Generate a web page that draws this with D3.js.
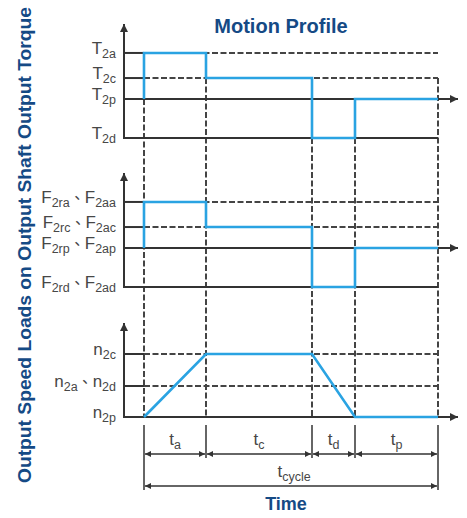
<!DOCTYPE html>
<html>
<head>
<meta charset="utf-8">
<script src="https://cdn.jsdelivr.net/npm/d3@7"></script>
<style>
  body { margin: 0; background: #fff; }
</style>
</head>
<body>
<div id="chart"></div>
<script>
// phase durations (arbitrary units)
const phaseNames = ["a", "c", "d", "p"];
const phaseDurations = [3.1, 5.3, 2.15, 4.15];

// torque levels, 0 = T2d, 100 = top of the axis
const torqueNames = [["2a"], ["2c"], ["2p"], ["2d"]];
const torqueLevels = [74.6, 52.6, 34.2, 0];
const torqueStart = 34.2;
const torqueByPhase = [74.6, 52.6, 0, 34.2];

// loads on output shaft
const forceNames = [["2ra", "2aa"], ["2rc", "2ac"], ["2rp", "2ap"], ["2rd", "2ad"]];
const forceLevels = [74.6, 52.6, 34.2, 0];
const forceStart = 34.2;
const forceByPhase = [74.6, 52.6, 0, 34.2];

// output speed
const speedNames = [["2c"], ["2a", "2d"], ["2p"]];
const speedLevels = [67, 33, 0];
const speedAtBounds = [0, 67, 67, 0, 0];

// where the dashed time guides start (torque units)
const guideTop = [34.2, 52.6, 0, 0, 52.6];

const width = 467, height = 518;
const axisX = 124, arrowX = 458;
const labelX = 116;
const blue = "#2aa3e2", ink = "#333", textGrey = "#474747", navy = "#154a85";
const font = "'Liberation Sans', Arial, sans-serif";

const bounds = [0].concat(Array.from(d3.cumsum(phaseDurations)));
const x = d3.scaleLinear().domain([0, d3.sum(phaseDurations)]).range([144, 438]);

const panels = [
  { top: 24, bottom: 138, sym: "T", names: torqueNames, levels: torqueLevels, axisLevel: 2, start: torqueStart, steps: torqueByPhase },
  { top: 173, bottom: 287, sym: "F", names: forceNames, levels: forceLevels, axisLevel: 2, start: forceStart, steps: forceByPhase },
  { top: 323, bottom: 417, sym: "n", names: speedNames, levels: speedLevels, axisLevel: 2, ramp: speedAtBounds }
];
panels.forEach((p) => (p.y = d3.scaleLinear().domain([0, 100]).range([p.bottom, p.top])));

const svg = d3.select("#chart").append("svg")
  .attr("width", width).attr("height", height)
  .style("font-family", font);

// arrow heads
const defs = svg.append("defs");
function marker(id, len, wid) {
  defs.append("marker")
    .attr("id", id)
    .attr("viewBox", "0 0 10 10")
    .attr("refX", 10).attr("refY", 5)
    .attr("markerUnits", "userSpaceOnUse")
    .attr("markerWidth", len).attr("markerHeight", wid)
    .attr("orient", "auto-start-reverse")
    .append("path")
    .attr("d", "M0,0L10,5L0,10z")
    .attr("fill", ink);
}
marker("axArrow", 11, 8);
marker("dimArrow", 10, 6);

// dashed time guides (behind everything)
const tPanel = panels[0], sPanel = panels[2];
svg.append("g").selectAll("line")
  .data(bounds)
  .join("line")
  .attr("x1", (d) => x(d)).attr("x2", (d) => x(d))
  .attr("y1", (d, i) => tPanel.y(guideTop[i]))
  .attr("y2", sPanel.y(0))
  .attr("stroke", "#444").attr("stroke-width", 2)
  .attr("stroke-dasharray", "6,2.5");

// label with subscripts: symbol, sub, [、 symbol, sub]
function label(g, xx, yy, sym, subs) {
  const t = g.append("text")
    .attr("x", xx).attr("y", yy)
    .attr("text-anchor", "end")
    .attr("fill", textGrey)
    .style("font-size", "17px");
  subs.forEach((s, k) => {
    if (k > 0) {
      t.append("tspan").attr("dy", -4)
        .style("font-family", "'Noto Sans CJK TC'").style("font-size", "15px")
        .text("、");
      t.append("tspan").text(sym);
    } else {
      t.append("tspan").text(sym);
    }
    t.append("tspan").attr("dy", 4).style("font-size", "12.5px").text(s);
  });
  return t;
}

panels.forEach((p) => {
  const g = svg.append("g");
  const xEnd = x(bounds[bounds.length - 1]);

  p.levels.forEach((lv, i) => {
    const yy = p.y(lv);
    if (i === p.axisLevel) {
      g.append("line")
        .attr("x1", axisX).attr("x2", arrowX).attr("y1", yy).attr("y2", yy)
        .attr("stroke", ink).attr("stroke-width", 2)
        .attr("marker-end", "url(#axArrow)");
    } else if (lv === 0) {
      g.append("line")
        .attr("x1", axisX).attr("x2", xEnd).attr("y1", yy).attr("y2", yy)
        .attr("stroke", ink).attr("stroke-width", 2);
    } else {
      g.append("line")
        .attr("x1", axisX).attr("x2", x(0)).attr("y1", yy).attr("y2", yy)
        .attr("stroke", ink).attr("stroke-width", 2);
      g.append("line")
        .attr("x1", x(0)).attr("x2", xEnd).attr("y1", yy).attr("y2", yy)
        .attr("stroke", "#444").attr("stroke-width", 2)
        .attr("stroke-dasharray", "6,2.5");
    }
    label(g, labelX, yy + 1, p.sym, p.names[i]);
  });

  // vertical axis
  g.append("line")
    .attr("x1", axisX).attr("x2", axisX)
    .attr("y1", p.y(0) + 1).attr("y2", p.y(100))
    .attr("stroke", ink).attr("stroke-width", 2)
    .attr("marker-end", "url(#axArrow)");

  // profile
  let pts;
  if (p.ramp) {
    pts = bounds.map((b, i) => [x(b), p.y(p.ramp[i])]);
  } else {
    pts = [[x(0), p.y(p.start)]];
    p.steps.forEach((v, i) => {
      pts.push([x(bounds[i]), p.y(v)]);
      pts.push([x(bounds[i + 1]), p.y(v)]);
    });
  }
  g.append("path")
    .attr("d", d3.line()(pts))
    .attr("fill", "none")
    .attr("stroke", blue).attr("stroke-width", 2.6)
    .attr("stroke-linejoin", "miter");
});

// time dimensions
const dim = svg.append("g");
const dimTop = 425, phaseY = 454, cycleY = 486;
dim.selectAll("line.tick")
  .data(bounds)
  .join("line")
  .attr("class", "tick")
  .attr("x1", (d) => x(d)).attr("x2", (d) => x(d))
  .attr("y1", dimTop)
  .attr("y2", (d, i) => (i === 0 || i === bounds.length - 1 ? 490 : 458))
  .attr("stroke", ink).attr("stroke-width", 1.5);

dim.selectAll("line.phase")
  .data(phaseNames)
  .join("line")
  .attr("class", "phase")
  .attr("x1", (d, i) => x(bounds[i]) + 1).attr("x2", (d, i) => x(bounds[i + 1]) - 1)
  .attr("y1", phaseY).attr("y2", phaseY)
  .attr("stroke", ink).attr("stroke-width", 1.5)
  .attr("marker-start", "url(#dimArrow)")
  .attr("marker-end", "url(#dimArrow)");

function timeLabel(xx, yy, sub) {
  const t = dim.append("text")
    .attr("x", xx).attr("y", yy)
    .attr("text-anchor", "middle")
    .attr("fill", textGrey)
    .style("font-size", "17px");
  t.append("tspan").text("t");
  t.append("tspan").attr("dy", 4).style("font-size", "12.5px").text(sub);
}
phaseNames.forEach((nm, i) => timeLabel((x(bounds[i]) + x(bounds[i + 1])) / 2, 445, nm));

dim.append("line")
  .attr("x1", x(0) + 1).attr("x2", x(bounds[bounds.length - 1]) - 1)
  .attr("y1", cycleY).attr("y2", cycleY)
  .attr("stroke", ink).attr("stroke-width", 1.5)
  .attr("marker-start", "url(#dimArrow)")
  .attr("marker-end", "url(#dimArrow)");
timeLabel((x(0) + x(bounds[bounds.length - 1])) / 2 + 3, 477, "cycle");

// titles
svg.append("text")
  .attr("x", 281).attr("y", 33)
  .attr("text-anchor", "middle")
  .attr("fill", navy)
  .style("font-size", "20px").style("font-weight", "bold")
  .text("Motion Profile");

svg.append("text")
  .attr("x", 286).attr("y", 510)
  .attr("text-anchor", "middle")
  .attr("fill", navy)
  .style("font-size", "18px").style("font-weight", "bold")
  .text("Time");

svg.append("text")
  .attr("transform", "translate(31,245) rotate(-90)")
  .attr("text-anchor", "middle")
  .attr("fill", navy)
  .style("font-size", "18px").style("font-weight", "bold")
  .attr("textLength", 476).attr("lengthAdjust", "spacingAndGlyphs")
  .text("Output Speed Loads on Output Shaft Output Torque");
</script>
</body>
</html>
